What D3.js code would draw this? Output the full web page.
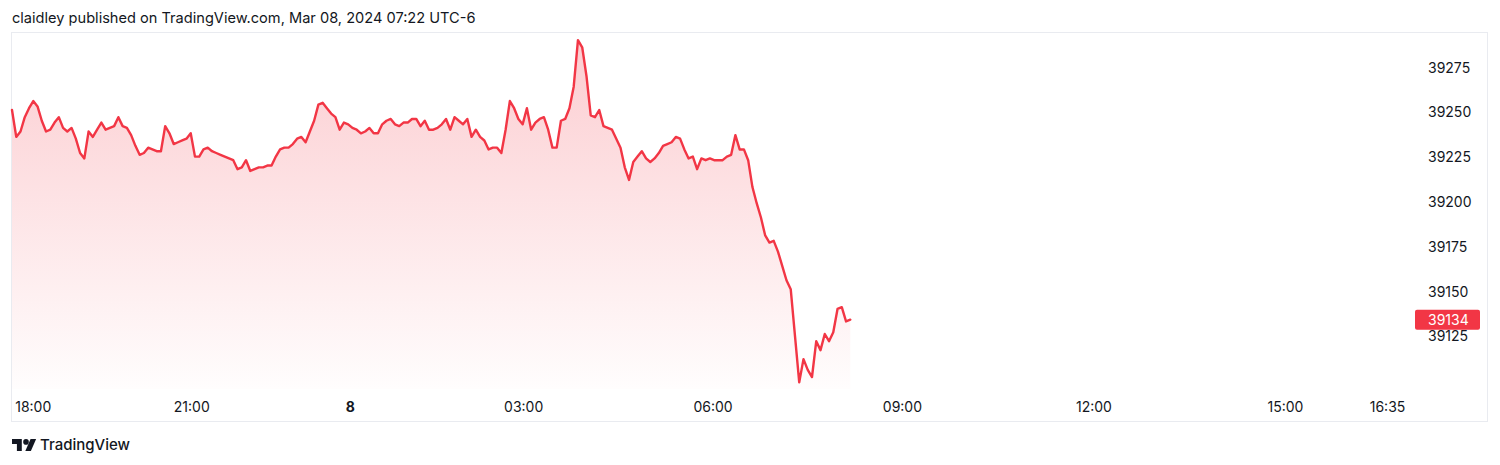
<!DOCTYPE html>
<html>
<head>
<meta charset="utf-8">
<script src="https://cdn.jsdelivr.net/npm/d3@7/dist/d3.min.js"></script>
<style>
  html, body { margin: 0; padding: 0; background: #ffffff; }
  svg { display: block; font-family: Inter, "Noto Sans", sans-serif; }
</style>
</head>
<body>
<svg id="chart" width="1500" height="465"></svg>
<script>
// ---- data ----
const headerText = "claidley published on TradingView.com, Mar 08, 2024 07:22 UTC-6";
const barStep = 4; // one value every 4 one-minute bars
const prices = [
  39251, 39236, 39239, 39247, 39252, 39256, 39253, 39245, 39239, 39240,
  39244, 39247, 39241, 39239, 39241, 39235, 39227, 39224, 39239, 39236,
  39240, 39244, 39240, 39241, 39242, 39247, 39242, 39241, 39237, 39231,
  39226, 39227, 39230, 39229, 39228, 39228, 39242, 39238, 39232, 39233,
  39234, 39235, 39238, 39225, 39225, 39229, 39230, 39228, 39227, 39226,
  39225, 39224, 39223, 39218, 39219, 39223, 39217, 39218, 39219, 39219,
  39220, 39220, 39225, 39229, 39230, 39230, 39232, 39235, 39236, 39233,
  39239, 39245, 39254, 39255, 39252, 39249, 39247, 39240, 39244, 39243,
  39241, 39240, 39238, 39239, 39241, 39238, 39238, 39243, 39245, 39246,
  39243, 39242, 39244, 39244, 39246, 39246, 39242, 39245, 39240, 39240,
  39241, 39243, 39246, 39240, 39247, 39245, 39243, 39246, 39236, 39240,
  39236, 39234, 39229, 39230, 39230, 39227, 39240, 39256, 39252, 39246,
  39243, 39252, 39240, 39244, 39246, 39247, 39240, 39230, 39230, 39245,
  39246, 39252, 39264, 39290, 39286, 39270, 39248, 39247, 39251, 39242,
  39241, 39240, 39235, 39230, 39219, 39212, 39222, 39225, 39228,
  39224, 39222, 39224, 39227, 39231, 39232, 39233, 39236, 39235, 39229,
  39224, 39225, 39218, 39224, 39223, 39224, 39223, 39223, 39223, 39225,
  39226, 39237, 39229, 39229, 39223, 39208, 39199, 39191, 39181, 39177,
  39178, 39172, 39164, 39156, 39151, 39125, 39099, 39112, 39106, 39102,
  39122, 39117, 39126, 39122, 39127, 39140, 39141, 39133, 39134
];
const lastPrice = 39134;
const timeLabels = ["18:00", "21:00", "8", "03:00", "06:00", "09:00", "12:00", "15:00", "16:35"];
const timeBars   = [20, 169, 318, 481, 659, 837, 1017, 1197, 1293];
const boldLabels = ["8"];
const priceTicks = [39125, 39150, 39175, 39200, 39225, 39250, 39275];
const totalBars = 1316;

// ---- layout ----
const frame = { left: 11.5, top: 32.5, right: 1487.5, bottom: 421.5 };
const plot = { left: 12, right: 1412, bottom: 389 };
const textColor = "#131722";
const red = "#F23645";

const svg = d3.select("#chart");
svg.append("rect").attr("width", 1500).attr("height", 465).attr("fill", "#ffffff");

// header
svg.append("text")
  .attr("x", 12).attr("y", 19)
  .attr("dominant-baseline", "middle")
  .attr("font-size", 14.6).attr("fill", textColor)
  .text(headerText);

// frame
svg.append("rect")
  .attr("x", frame.left).attr("y", frame.top)
  .attr("width", frame.right - frame.left).attr("height", frame.bottom - frame.top)
  .attr("fill", "none").attr("stroke", "#E9EBF0").attr("stroke-width", 1);

// scales
const x = d3.scaleLinear().domain([0, totalBars]).range([plot.left, plot.right]);
const y = d3.scaleLinear().domain([39125, 39275]).range([335.8, 67]);

// gradient
const defs = svg.append("defs");
const grad = defs.append("linearGradient")
  .attr("id", "fillGrad").attr("gradientUnits", "userSpaceOnUse")
  .attr("x1", 0).attr("y1", y(d3.max(prices))).attr("x2", 0).attr("y2", plot.bottom);
grad.append("stop").attr("offset", 0).attr("stop-color", red).attr("stop-opacity", 0.25);
grad.append("stop").attr("offset", 1).attr("stop-color", red).attr("stop-opacity", 0.01);

const area = d3.area()
  .x((d, i) => x(i * barStep))
  .y0(plot.bottom)
  .y1(d => y(d));
const line = d3.line()
  .x((d, i) => x(i * barStep))
  .y(d => y(d));

svg.append("path").datum(prices).attr("d", area).attr("fill", "url(#fillGrad)");
svg.append("path").datum(prices).attr("d", line)
  .attr("fill", "none").attr("stroke", red).attr("stroke-width", 2.4)
  .attr("stroke-linejoin", "round").attr("stroke-linecap", "round");

// price axis
const yAxis = svg.append("g").attr("class", "y-axis");
yAxis.selectAll("text").data(priceTicks).join("text")
  .attr("x", 1428).attr("y", d => y(d))
  .attr("dominant-baseline", "central")
  .attr("font-size", 14).attr("fill", textColor)
  .text(d => d);

// last price label
const ly = y(lastPrice);
svg.append("rect")
  .attr("x", 1415).attr("y", ly - 10).attr("width", 65).attr("height", 20)
  .attr("rx", 2).attr("fill", red);
svg.append("text")
  .attr("x", 1428).attr("y", ly)
  .attr("dominant-baseline", "central")
  .attr("font-size", 14).attr("fill", "#ffffff")
  .text(lastPrice);

// time axis
const xAxis = svg.append("g").attr("class", "x-axis");
xAxis.selectAll("text").data(timeLabels).join("text")
  .attr("x", (d, i) => x(timeBars[i]))
  .attr("y", 406)
  .attr("text-anchor", "middle")
  .attr("dominant-baseline", "central")
  .attr("font-size", 14)
  .attr("font-weight", d => boldLabels.includes(d) ? 700 : 400)
  .attr("fill", textColor)
  .text(d => d);

// TradingView logo
const logo = svg.append("g").attr("transform", "translate(12,437) scale(0.7)");
logo.append("path").attr("d", "M14 20H7V10H0V3h14v17z").attr("fill", textColor);
logo.append("circle").attr("cx", 20).attr("cy", 7).attr("r", 4).attr("fill", textColor);
logo.append("path").attr("d", "M27 20h-8l7.5-17h8L27 20z").attr("fill", textColor);
svg.append("text")
  .attr("x", 40).attr("y", 444)
  .attr("dominant-baseline", "central")
  .attr("font-size", 15).attr("font-weight", 500).attr("fill", textColor)
  .text("TradingView");
</script>
</body>
</html>
